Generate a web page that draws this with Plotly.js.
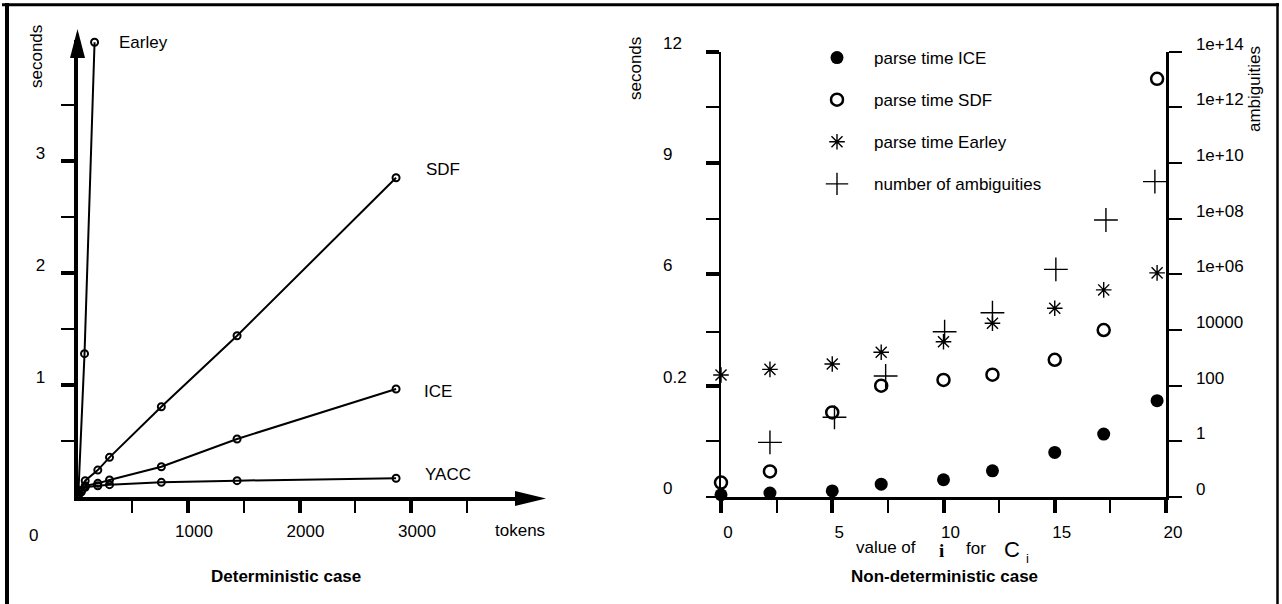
<!DOCTYPE html>
<html><head><meta charset="utf-8">
<script src="https://cdn.plot.ly/plotly-3.0.1.min.js"></script>
<style>html,body{margin:0;padding:0;background:#fff}</style>
</head><body><div id="chart" style="width:1282px;height:604px"></div>
<script>
// ---------- Deterministic case (left panel) ----------
const detTokens = [18, 42, 78, 191, 296, 761, 1440, 2866];
const sdfSeconds = [0.03, 0.056, 0.146, 0.24, 0.354, 0.806, 1.44, 2.85];
const iceSeconds = [0.025, 0.05, 0.10, 0.122, 0.152, 0.27, 0.518, 0.964];
const yaccSeconds = [0.02, 0.045, 0.087, 0.10, 0.11, 0.131, 0.146, 0.167];
const earleyTokens = [18, 72, 162];
const earleySeconds = [0.06, 1.28, 4.06];
const detXTicks = [1000, 2000, 3000];
const detXMinor = [500, 1500, 2500, 3500];
const detYTicks = [1, 2, 3];
const detYMinor = [0.5, 1.5, 2.5, 3.5];

// ---------- Non-deterministic case (right panel) ----------
const iValues = [0, 2.2, 5, 7.2, 10, 12.2, 15, 17.2, 19.6];
const iceNd = [0.004, 0.007, 0.011, 0.023, 0.031, 0.047, 0.080, 0.113, 0.173];
const sdfNd = [0.026, 0.046, 0.152, 0.2, 0.5, 0.77, 1.55, 3.1, 11.27];
const earleyNd = [0.76, 1.05, 1.33, 1.94, 2.49, 3.45, 4.23, 5.19, 6.04];
const ambigI = [2.2, 5.1, 7.4, 10.05, 12.2, 15.05, 17.3, 19.5];
const ambiguities = [0.92, 7.3, 223, 8710, 41900, 1.51e6, 8.97e7, 2.14e9];
const ndXTicks = [0, 5, 10, 15, 20];
const ndXMinor = [2.5, 7.5, 12.5, 17.5];
const secTickVals = [0, 0.2, 6, 9, 12];
const secTickText = ['0', '0.2', '6', '9', '12'];
const secMinorVals = [0.1, 3, 7.5, 10.5];
const ambTickVals = [0.01, 1, 100, 1e4, 1e6, 1e8, 1e10, 1e12, 1e14];
const ambTickText = ['0', '1', '100', '10000', '1e+06', '1e+08', '1e+10', '1e+12', '1e+14'];
const ambMajor = [100, 1e6, 1e10, 1e14];
const legendNames = ['parse time ICE', 'parse time SDF', 'parse time Earley', 'number of ambiguities'];

// broken (piecewise) seconds scale of the right panel: 0..0.2 | 0.2..6 | 6..12
function secScale(s) {
  if (s <= 0.2) return s / 0.1;
  if (s <= 6) return 2 + (s - 0.2) / 5.8 * 2;
  return 4 + (s - 6) / 3 * 2;
}

const W = 1282, H = 604;
const px = x => x / W;
const py = y => 1 - y / H;
const FONT = 'Liberation Sans, Arial, Helvetica, sans-serif';

const detLine = {width: 2, color: 'black'};
const detMarker = {symbol: 'circle-open', size: 7, color: 'black', line: {width: 2, color: 'black'}};

const traces = [
  {x: [0].concat(earleyTokens), y: [0].concat(earleySeconds), mode: 'lines+markers', line: detLine, marker: detMarker, xaxis: 'x', yaxis: 'y', showlegend: false, cliponaxis: false, name: 'Earley'},
  {x: [0].concat(detTokens), y: [0].concat(sdfSeconds), mode: 'lines+markers', line: detLine, marker: detMarker, xaxis: 'x', yaxis: 'y', showlegend: false, cliponaxis: false, name: 'SDF'},
  {x: [0].concat(detTokens), y: [0].concat(iceSeconds), mode: 'lines+markers', line: detLine, marker: detMarker, xaxis: 'x', yaxis: 'y', showlegend: false, cliponaxis: false, name: 'ICE'},
  {x: [0].concat(detTokens), y: [0].concat(yaccSeconds), mode: 'lines+markers', line: detLine, marker: detMarker, xaxis: 'x', yaxis: 'y', showlegend: false, cliponaxis: false, name: 'YACC'},

  {x: ambigI, y: ambiguities, mode: 'markers', xaxis: 'x2', yaxis: 'y3', name: legendNames[3], legendgroup: 'd', legendrank: 4,
   marker: {symbol: 'cross-thin-open', size: 17, color: 'black', line: {width: 1.4, color: 'black'}}, cliponaxis: false},
  {x: iValues, y: sdfNd.map(secScale), mode: 'markers', xaxis: 'x2', yaxis: 'y2', name: legendNames[1], legendgroup: 'b', legendrank: 2,
   marker: {symbol: 'circle-open', size: 12, color: 'black', line: {width: 2.5, color: 'black'}}, cliponaxis: false},
  {x: iValues, y: earleyNd.map(secScale), mode: 'markers', xaxis: 'x2', yaxis: 'y2', name: legendNames[2], legendgroup: 'c', legendrank: 3,
   marker: {symbol: 'asterisk-open', size: 13, color: 'black', line: {width: 1.4, color: 'black'}}, cliponaxis: false},
  {x: iValues, y: iceNd.map(secScale), mode: 'markers', xaxis: 'x2', yaxis: 'y2', name: legendNames[0], legendgroup: 'a', legendrank: 1,
   marker: {symbol: 'circle', size: 13, color: 'black'}, cliponaxis: false}
];

const tickFont = {family: FONT, size: 17, color: 'black'};
const detXEnd = 530, detYTop = 40, detX0 = 76.5, detY0 = 497;

const layout = {
  width: W, height: H,
  margin: {l: 0, r: 0, t: 0, b: 0, pad: 0},
  paper_bgcolor: 'white', plot_bgcolor: 'white',
  font: {family: FONT, size: 17, color: 'black'},
  showlegend: true,
  legend: {x: px(800), y: py(40), xanchor: 'left', yanchor: 'top', bgcolor: 'rgba(0,0,0,0)',
           font: {family: FONT, size: 17, color: 'black'}, tracegroupgap: 17, itemwidth: 64, traceorder: 'grouped'},
  xaxis: {domain: [px(77.5), px(detXEnd)], range: [(77.5 - detX0) / 0.1115, (detXEnd - detX0) / 0.1115], anchor: 'y',
          showline: true, linewidth: 4, linecolor: 'black', zeroline: false, showgrid: false,
          tickmode: 'array', tickvals: detXTicks, ticks: 'outside', ticklen: 12, tickwidth: 4, tickcolor: 'black',
          tickfont: tickFont, ticklabelshift: 6, ticklabelstandoff: 4,
          minor: {tickmode: 'array', tickvals: detXMinor, ticks: 'outside', ticklen: 12, tickwidth: 2, tickcolor: 'black', showgrid: false}},
  yaxis: {domain: [py(detY0), py(detYTop)], range: [0, (detY0 - detYTop) / 112], anchor: 'x',
          showline: true, linewidth: 4, linecolor: 'black', zeroline: false, showgrid: false,
          tickmode: 'array', tickvals: detYTicks, ticks: 'outside', ticklen: 13, tickwidth: 4, tickcolor: 'black',
          tickfont: tickFont, ticklabelshift: -8, ticklabelstandoff: 12,
          minor: {tickmode: 'array', tickvals: detYMinor, ticks: 'outside', ticklen: 13, tickwidth: 2, tickcolor: 'black', showgrid: false}},

  xaxis2: {domain: [px(721), px(1166)], range: [0, 20], anchor: 'y2',
           showline: true, linewidth: 2.5, linecolor: 'black', zeroline: false, showgrid: false,
           tickmode: 'array', tickvals: ndXTicks, ticks: 'outside', ticklen: 13, tickwidth: 4, tickcolor: 'black',
           tickfont: tickFont, ticklabelshift: 7, ticklabelstandoff: 5,
           minor: {tickmode: 'array', tickvals: ndXMinor, ticks: 'outside', ticklen: 13, tickwidth: 2, tickcolor: 'black', showgrid: false}},
  yaxis2: {domain: [py(497), py(51.7)], range: [0, 8], anchor: 'x2',
           showline: true, linewidth: 2.5, linecolor: 'black', zeroline: false, showgrid: false,
           tickmode: 'array', tickvals: secTickVals.slice(1).map(secScale), ticks: 'outside', ticklen: 13, tickwidth: 4, tickcolor: 'black',
           showticklabels: false,
           minor: {tickmode: 'array', tickvals: [0].concat(secMinorVals.map(secScale)), ticks: 'outside', ticklen: 13, tickwidth: 2, tickcolor: 'black', showgrid: false}},
  yaxis3: {overlaying: 'y2', side: 'right', anchor: 'x2', type: 'log', range: [-2, 14],
           showline: true, linewidth: 2.5, linecolor: 'black', zeroline: false, showgrid: false,
           tickmode: 'array', tickvals: ambTickVals, ticktext: ambTickText, ticks: 'outside', ticklen: 13, tickwidth: 2, tickcolor: 'black',
           tickfont: tickFont, ticklabelshift: -8, ticklabelstandoff: 11},
  yaxis4: {overlaying: 'y2', side: 'right', anchor: 'x2', type: 'log', range: [-2, 14],
           showline: false, zeroline: false, showgrid: false,
           tickmode: 'array', tickvals: ambMajor, ticks: 'outside', ticklen: 13, tickwidth: 4, tickcolor: 'black',
           showticklabels: false},
  shapes: [
    // frame
    {type: 'line', xref: 'paper', yref: 'paper', x0: px(2), x1: px(1279), y0: py(4.7), y1: py(4.7), line: {width: 3, color: 'black'}},
    {type: 'line', xref: 'paper', yref: 'paper', x0: px(7), x1: px(7), y0: py(3), y1: py(604), line: {width: 4, color: 'black'}},
    {type: 'line', xref: 'paper', yref: 'paper', x0: px(1277.5), x1: px(1277.5), y0: py(3), y1: py(604), line: {width: 2.5, color: 'black'}},
    // arrow heads
    {type: 'path', xref: 'paper', yref: 'paper', fillcolor: 'black', line: {width: 0},
     path: `M ${px(77.5)} ${py(29)} L ${px(70)} ${py(58)} L ${px(85)} ${py(58)} Z`},
    {type: 'path', xref: 'paper', yref: 'paper', fillcolor: 'black', line: {width: 0},
     path: `M ${px(546)} ${py(498.5)} L ${px(515)} ${py(491)} L ${px(515)} ${py(506)} Z`}
  ],
  annotations: []
};

function ann(text, x, y, opts) {
  layout.annotations.push(Object.assign({text: text, xref: 'paper', yref: 'paper', x: px(x), y: py(y),
    xanchor: 'left', yanchor: 'middle', showarrow: false, font: {family: FONT, size: 17, color: 'black'}}, opts || {}));
}
// left panel texts
ann('seconds', 37, 57, {xanchor: 'center', textangle: -90});
ann('Earley', 117, 43);
ann('SDF', 424, 169);
ann('ICE', 422, 391);
ann('YACC', 423, 474);
ann('tokens', 493, 530);
ann('0', 33, 535, {xanchor: 'center'});
ann('<b>Deterministic case</b>', 286, 576, {xanchor: 'center'});
// right panel texts
ann('seconds', 636, 69, {xanchor: 'center', textangle: -90});
ann('ambiguities', 1254, 89, {xanchor: 'center', textangle: -90});
const secLabelY = secTickVals.map(v => 497 - secScale(v) * (497 - 51.7) / 8 - 8.5);
secTickText.forEach((t, k) => ann(t, 661, secLabelY[k]));
ann('value of', 854, 547);
ann('<b>i</b>', 941, 550, {xanchor: 'center', font: {family: 'Liberation Serif, Times New Roman, serif', size: 19, color: 'black'}});
ann('for', 964, 548);
ann('C', 1012, 549, {xanchor: 'center', font: {family: FONT, size: 22, color: 'black'}});
ann('i', 1027, 558, {xanchor: 'center', font: {family: FONT, size: 13, color: 'black'}});
ann('<b>Non-deterministic case</b>', 945, 576, {xanchor: 'center'});

Plotly.newPlot('chart', traces, layout, {displayModeBar: false, staticPlot: true});
</script>
</body></html>
